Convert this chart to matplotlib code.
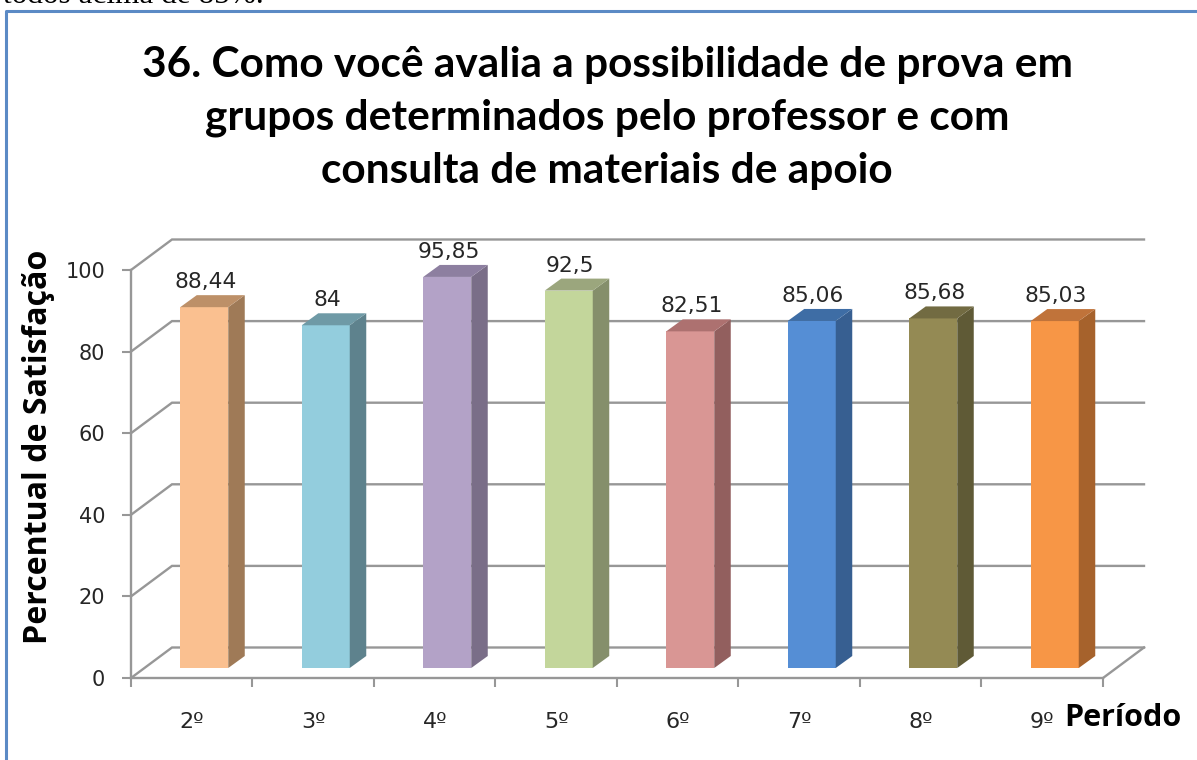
import matplotlib
matplotlib.use('Agg')
import matplotlib.pyplot as plt
from matplotlib.patches import Polygon
from matplotlib.lines import Line2D

periods = ['2º', '3º', '4º', '5º', '6º', '7º', '8º', '9º']
values = [88.44, 84, 95.85, 92.5, 82.51, 85.06, 85.68, 85.03]
value_labels = ['88,44', '84', '95,85', '92,5', '82,51', '85,06', '85,68', '85,03']
y_ticks = [0, 20, 40, 60, 80, 100]

front_colors = ['#FAC090', '#93CDDD', '#B3A2C7', '#C3D69B', '#D99694', '#558ED5', '#948A54', '#F79646']
top_colors = ['#BD9068', '#6F9AA6', '#8D7FA0', '#9BA67D', '#AD7170', '#3E6DA5', '#726B42', '#C0733A']
side_colors = ['#9F7A57', '#5E828D', '#7A6E88', '#858F6B', '#925F5E', '#375F91', '#5F5A36', '#A6622C']

title = '36. Como você avalia a possibilidade de prova em\ngrupos determinados pelo professor e com\nconsulta de materiais de apoio'

W, H = 1197, 760
grey = '#979797'
text_col = '#262626'

fig = plt.figure(figsize=(W / 100, H / 100), dpi=100)
ax = fig.add_axes([131 / W, (H - 678) / H, 972 / W, 408 / H])
ax.set_xlim(0, 8)
ax.set_ylim(0, 100)

# fake 3D depth, in data units (1 category = 121.5 px, 1 unit = 4.08 px)
wall_dx, wall_dy = 41 / 121.5, 30.5 / 4.08
bar_dx, bar_dy = 16.5 / 121.5, 12 / 4.08
bar_w = 48 / 121.5
bar_off, bar_base = 12.5 / 121.5, 10 / 4.08

# back wall and left wall lines
for t in y_ticks:
    ax.plot([0, wall_dx, 8 + wall_dx], [t, t + wall_dy, t + wall_dy], color=grey, lw=1.7,
            clip_on=False, zorder=1, solid_joinstyle='miter')
ax.plot([8, 8 + wall_dx], [0, wall_dy], color=grey, lw=1.7, clip_on=False, zorder=1)

# bars
for i, v in enumerate(values):
    cx = i + 0.5 + bar_off
    x0, x1 = cx - bar_w / 2, cx + bar_w / 2
    top = bar_base + v
    ax.bar(cx, v, width=bar_w, bottom=bar_base, color=front_colors[i], zorder=3, clip_on=False)
    ax.add_patch(Polygon([(x1, bar_base), (x1 + bar_dx, bar_base + bar_dy), (x1 + bar_dx, top + bar_dy), (x1, top)],
                         closed=True, fc=side_colors[i], ec='none', zorder=3, clip_on=False))
    ax.add_patch(Polygon([(x0, top), (x0 + bar_dx, top + bar_dy), (x1 + bar_dx, top + bar_dy), (x1, top)],
                         closed=True, fc=top_colors[i], ec='none', zorder=3, clip_on=False))
    ax.text(cx + 0.01, top + bar_dy + 1.7, value_labels[i], ha='center', va='baseline', fontsize=15.7,
            color=text_col, zorder=4)

# axes
for s in ['top', 'right']:
    ax.spines[s].set_visible(False)
for s in ['left', 'bottom']:
    ax.spines[s].set_color(grey)
    ax.spines[s].set_linewidth(1.7)
    ax.spines[s].set_zorder(2)
ax.set_yticks(y_ticks)
ax.set_xticks(range(9))
ax.set_xticklabels([])
ax.tick_params(axis='both', length=6.5, width=1.5, color=grey, labelsize=15, labelcolor=text_col)
ax.tick_params(axis='y', pad=12)
for i, p in enumerate(periods):
    ax.annotate(p, (i + 0.5, 0), xytext=(0, -36), textcoords='offset points', ha='center', va='baseline',
                fontsize=16, color=text_col, annotation_clip=False)

# texts
fig.text(607 / W, 1 - 118 / H, title, ha='center', va='center', fontsize=30.5, fontweight='bold', family='Lato',
         linespacing=1.49, color='black')
fig.text(39 / W, 1 - 447 / H, 'Percentual de Satisfação', rotation=90, ha='center', va='center', fontsize=23.1,
         fontweight='bold', family='Open Sans', color='black')
fig.text(1123 / W, 1 - 718 / H, 'Período', ha='center', va='center', fontsize=22, fontweight='bold',
         family='Open Sans', color='black')
fig.text(3 / W, 1 - 3 / H, 'todos acima de 85%.', ha='left', va='baseline', fontsize=22.5, family='Liberation Serif',
         color='black')

# blue frame, runs off the picture right and below
fig.add_artist(Line2D([5.5 / W, 5.5 / W, 1], [0, 1 - 11 / H, 1 - 11 / H], color='#5B8AC5', lw=2.2))

fig.savefig('out.png', dpi=100)
